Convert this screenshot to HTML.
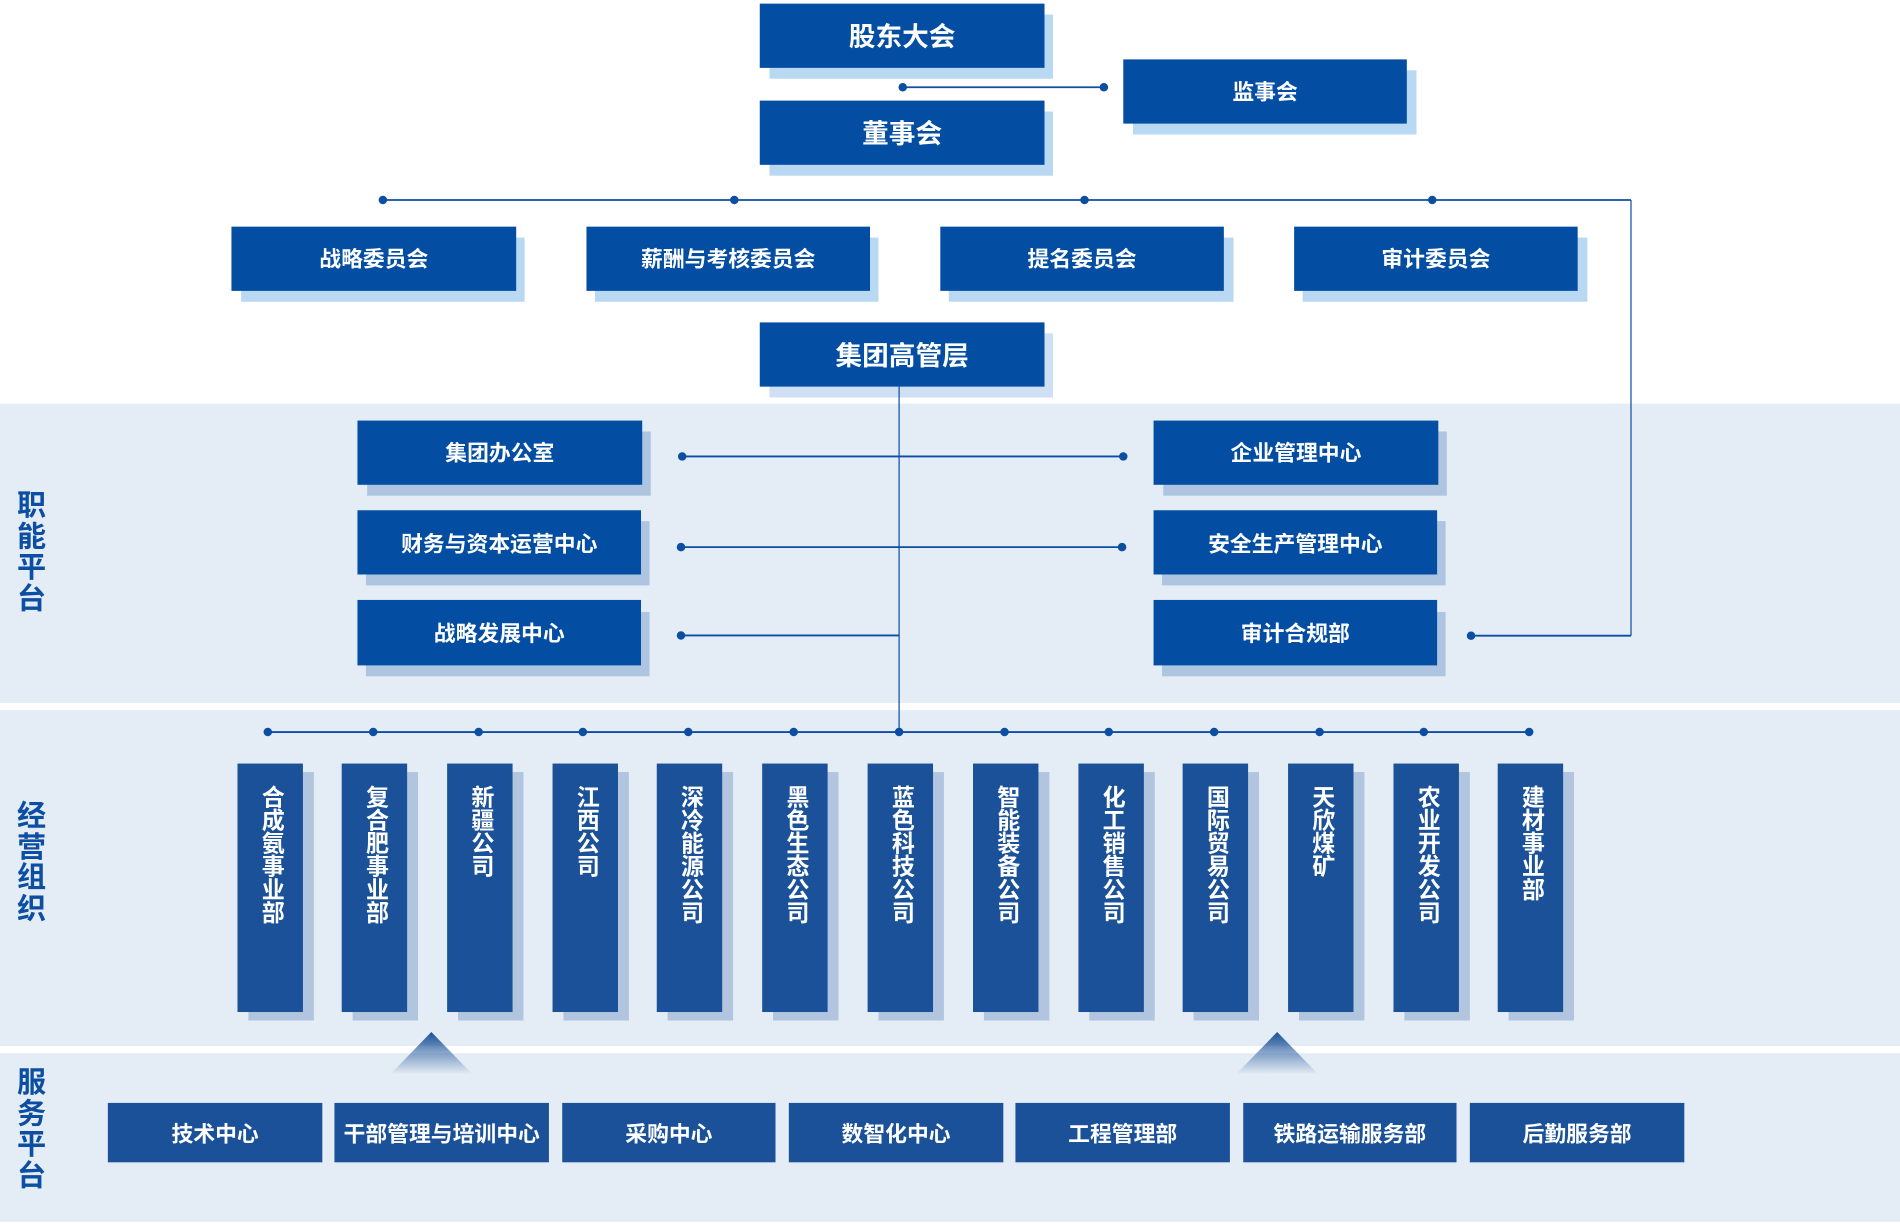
<!DOCTYPE html>
<html><head><meta charset="utf-8">
<style>
html,body{margin:0;padding:0;background:#fff;}
body{width:1900px;height:1229px;overflow:hidden;position:relative;}
#c{position:absolute;left:0;top:0;width:1568px;height:1014px;transform:scale(1.21173,1.2120);transform-origin:0 0;font-family:"Liberation Sans","Noto Sans CJK SC",sans-serif;}
.band{position:absolute;left:0;width:1568px;background:#e4ecf5;}
.b{position:absolute;background:#034ea2;color:#fff;display:flex;align-items:center;justify-content:center;font-size:18px;font-weight:bold;white-space:nowrap;}
.s{position:absolute;background:#b9d9f3;}
.sf{position:absolute;background:#adc5e1;}
.col{position:absolute;background:#1a5198;color:#fff;width:54px;height:205px;top:630px;writing-mode:vertical-rl;font-size:19px;font-weight:bold;line-height:54px;text-align:start;padding-top:18px;box-sizing:border-box;}
.cs{position:absolute;background:#b1c5df;width:54px;height:205px;top:637px;}
.sv{position:absolute;background:#1a5198;color:#fff;top:910px;height:49px;width:177px;display:flex;align-items:center;justify-content:center;font-size:18px;font-weight:bold;white-space:nowrap;}
.lab{position:absolute;left:13px;width:26px;color:#0b4ea2;font-size:24px;font-weight:bold;line-height:25.5px;text-align:center;}
svg{position:absolute;left:0;top:0;}
</style></head><body><div id="c">
<div class="band" style="top:333.4px;height:246.5px"></div>
<div class="band" style="top:586px;height:276.5px"></div>
<div class="band" style="top:869px;height:139px"></div>

<!-- top -->
<div class="s" style="left:635px;top:12px;width:234px;height:53px"></div>
<div class="b" style="left:627px;top:2.5px;width:235px;height:53px;font-size:22px">股东大会</div>
<div class="s" style="left:935px;top:58px;width:234px;height:53px"></div>
<div class="b" style="left:927px;top:48.7px;width:234px;height:53px">监事会</div>
<div class="s" style="left:635px;top:92px;width:234px;height:53px"></div>
<div class="b" style="left:627px;top:82.5px;width:235px;height:53px;font-size:22px">董事会</div>

<div class="s" style="left:199px;top:196px;width:234px;height:53px"></div>
<div class="b" style="left:191px;top:186.5px;width:235px;height:53px">战略委员会</div>
<div class="s" style="left:491px;top:196px;width:234px;height:53px"></div>
<div class="b" style="left:484px;top:186.5px;width:234px;height:53px">薪酬与考核委员会</div>
<div class="s" style="left:783px;top:196px;width:235px;height:53px"></div>
<div class="b" style="left:776px;top:186.5px;width:234px;height:53px">提名委员会</div>
<div class="s" style="left:1075px;top:196px;width:235px;height:53px"></div>
<div class="b" style="left:1068px;top:186.5px;width:234px;height:53px">审计委员会</div>

<div class="s" style="left:635px;top:275px;width:234px;height:53px;background:#cfe0f4"></div>
<div class="b" style="left:627px;top:265.8px;width:235px;height:53px;font-size:22px">集团高管层</div>

<!-- functional -->
<div class="sf" style="left:303px;top:356px;width:234px;height:53px"></div>
<div class="b" style="left:295px;top:346.6px;width:235px;height:53.5px">集团办公室</div>
<div class="sf" style="left:302px;top:430px;width:234px;height:53px"></div>
<div class="b" style="left:295px;top:420.9px;width:234px;height:53.5px">财务与资本运营中心</div>
<div class="sf" style="left:302px;top:504.5px;width:234px;height:53px"></div>
<div class="b" style="left:295px;top:495.2px;width:234px;height:53.5px">战略发展中心</div>
<div class="sf" style="left:960px;top:356px;width:234px;height:53px"></div>
<div class="b" style="left:952px;top:346.6px;width:235px;height:53.5px">企业管理中心</div>
<div class="sf" style="left:959px;top:430px;width:234px;height:53px"></div>
<div class="b" style="left:952px;top:420.9px;width:234px;height:53.5px">安全生产管理中心</div>
<div class="sf" style="left:959px;top:504.5px;width:234px;height:53px"></div>
<div class="b" style="left:952px;top:495.2px;width:234px;height:53.5px">审计合规部</div>

<div class="lab" style="top:405px">职<br>能<br>平<br>台</div>
<div class="lab" style="top:661px">经<br>营<br>组<br>织</div>
<div class="lab" style="top:881px">服<br>务<br>平<br>台</div>

<svg width="1568" height="1014" viewBox="0 0 1568 1014">
<defs><linearGradient id="g" x1="0" y1="0" x2="0" y2="1"><stop offset="0" stop-color="#1a5198"/><stop offset="1" stop-color="#1a5198" stop-opacity="0"/></linearGradient></defs>
<g stroke="#0b4ea2" fill="none">
<line x1="745" y1="72" x2="911" y2="72" stroke-width="1.5"/>
<line x1="316" y1="165" x2="1346" y2="165" stroke-width="1.5"/>
<line x1="1346" y1="165" x2="1346" y2="524.5" stroke-width="1"/>
<line x1="1214" y1="524.5" x2="1346" y2="524.5" stroke-width="1.5"/>
<line x1="742" y1="319" x2="742" y2="604" stroke-width="1"/>
<line x1="563" y1="376.6" x2="927" y2="376.6" stroke-width="1.5"/>
<line x1="562" y1="451.4" x2="926" y2="451.4" stroke-width="1.5"/>
<line x1="562" y1="524.3" x2="742" y2="524.3" stroke-width="1.5"/>
<line x1="221" y1="604" x2="1262" y2="604" stroke-width="1.5"/>
</g>
<g fill="#0b4ea2">
<circle cx="745" cy="72" r="3.5"/><circle cx="911" cy="72" r="3.5"/>
<circle cx="316" cy="165" r="3.5"/><circle cx="606" cy="165" r="3.5"/><circle cx="895" cy="165" r="3.5"/><circle cx="1182" cy="165" r="3.5"/>
<circle cx="563" cy="376.6" r="3.5"/><circle cx="927" cy="376.6" r="3.5"/>
<circle cx="562" cy="451.4" r="3.5"/><circle cx="926" cy="451.4" r="3.5"/>
<circle cx="562" cy="524.3" r="3.5"/><circle cx="1214" cy="524.5" r="3.5"/>
<circle cx="221" cy="604" r="3.5"/><circle cx="308" cy="604" r="3.5"/><circle cx="395" cy="604" r="3.5"/><circle cx="481" cy="604" r="3.5"/><circle cx="568" cy="604" r="3.5"/><circle cx="655" cy="604" r="3.5"/><circle cx="742" cy="604" r="3.5"/><circle cx="829" cy="604" r="3.5"/><circle cx="915" cy="604" r="3.5"/><circle cx="1002" cy="604" r="3.5"/><circle cx="1089" cy="604" r="3.5"/><circle cx="1175" cy="604" r="3.5"/><circle cx="1262" cy="604" r="3.5"/>
</g>
<polygon points="356,851.5 322,886.4 390,886.4" fill="url(#g)"/>
<polygon points="1054,851.5 1020,886.4 1088,886.4" fill="url(#g)"/>
</svg>

<!-- columns -->
<div class="cs" style="left:205px"></div><div class="col" style="left:196px">合成氨事业部</div>
<div class="cs" style="left:291px"></div><div class="col" style="left:282px">复合肥事业部</div>
<div class="cs" style="left:378px"></div><div class="col" style="left:369px">新疆公司</div>
<div class="cs" style="left:465px"></div><div class="col" style="left:456px">江西公司</div>
<div class="cs" style="left:551px"></div><div class="col" style="left:542px">深冷能源公司</div>
<div class="cs" style="left:638px"></div><div class="col" style="left:629px">黑色生态公司</div>
<div class="cs" style="left:725px"></div><div class="col" style="left:716px">蓝色科技公司</div>
<div class="cs" style="left:812px"></div><div class="col" style="left:803px">智能装备公司</div>
<div class="cs" style="left:899px"></div><div class="col" style="left:890px">化工销售公司</div>
<div class="cs" style="left:985px"></div><div class="col" style="left:976px">国际贸易公司</div>
<div class="cs" style="left:1072px"></div><div class="col" style="left:1063px">天欣煤矿</div>
<div class="cs" style="left:1159px"></div><div class="col" style="left:1150px">农业开发公司</div>
<div class="cs" style="left:1245px"></div><div class="col" style="left:1236px">建材事业部</div>

<!-- services -->
<div class="sv" style="left:89px">技术中心</div>
<div class="sv" style="left:276px">干部管理与培训中心</div>
<div class="sv" style="left:464px;width:176px">采购中心</div>
<div class="sv" style="left:651px">数智化中心</div>
<div class="sv" style="left:838px">工程管理部</div>
<div class="sv" style="left:1026px;width:176px">铁路运输服务部</div>
<div class="sv" style="left:1213px">后勤服务部</div>
</div></body></html>
